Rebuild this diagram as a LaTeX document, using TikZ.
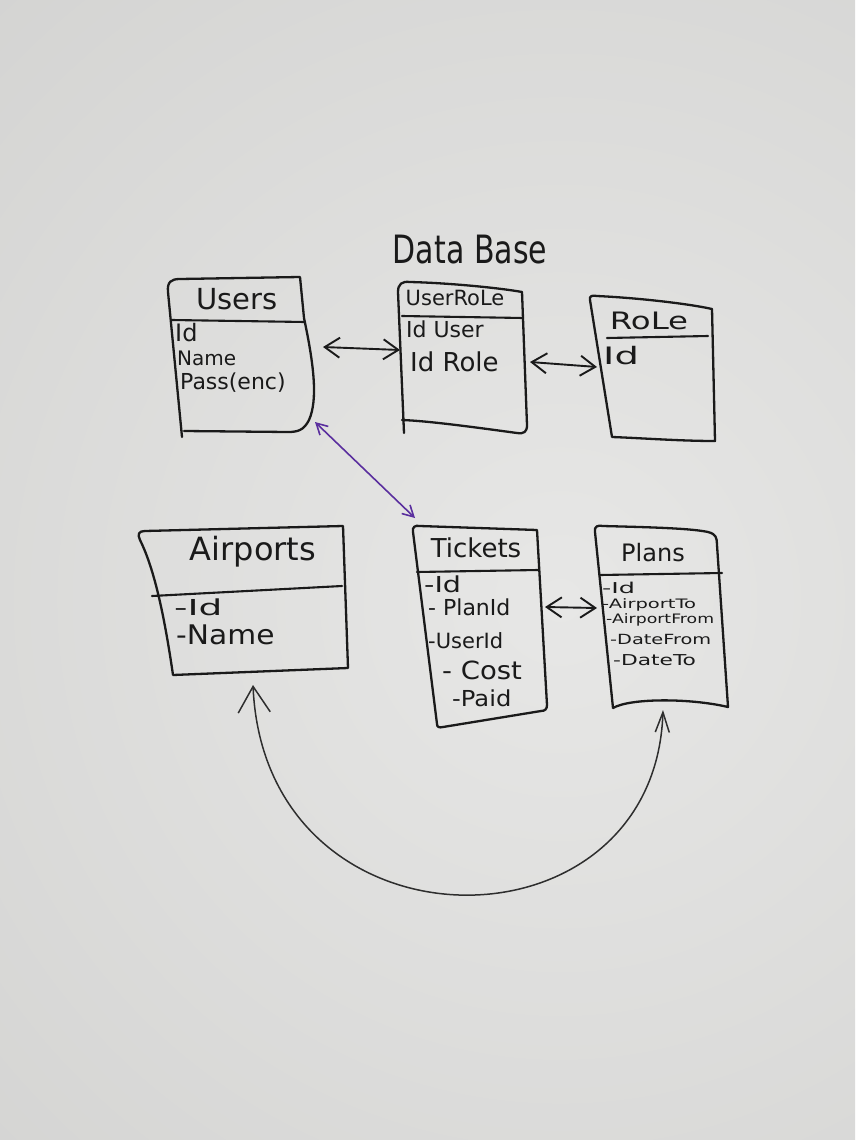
\documentclass[tikz,border=0pt]{standalone}
\usepackage{fontspec}
\usepackage{graphicx}
\usetikzlibrary{arrows.meta}
\newfontfamily\handfont{DejaVu Sans}
\newcommand\fsz[1]{\fontsize{#1}{#1}\selectfont}
\newcommand\wide[2]{\scalebox{#1}[1]{#2}}
\definecolor{ink}{HTML}{1A1A1A}
\definecolor{thinink}{HTML}{2E2E2E}
\definecolor{violetink}{HTML}{5A2E9E}
\definecolor{boardhi}{HTML}{E7E7E6}
\definecolor{boardlo}{HTML}{C7C7C5}

\begin{document}
\begin{tikzpicture}[x=1pt,y=-1pt,
  box/.style={draw=ink, line width=2.3pt, line cap=round, line join=round},
  rule/.style={draw=ink, line width=2.1pt, line cap=round},
  lbl/.style={font=\handfont, text=ink, inner sep=0pt},
  fld/.style={lbl, anchor=west},
  link/.style={draw=ink, line width=1.9pt, line cap=round,
    {Straight Barb[length=15pt,width=20pt]}-{Straight Barb[length=15pt,width=20pt]}},
  fklink/.style={draw=violetink, line width=1.6pt, line cap=round,
    {Straight Barb[length=11pt,width=12pt]}-{Straight Barb[length=11pt,width=12pt]}},
  bigloop/.style={draw=thinink, line width=1.5pt, line cap=round,
    {Straight Barb[length=26pt,width=32pt]}-{Straight Barb[length=20pt,width=14pt]}},
]
% whiteboard
\begin{scope}
  \clip (0,0) rectangle (855,1140);
  \fill[boardlo] (0,0) rectangle (855,1140);
  \shade[inner color=boardhi, outer color=boardlo] (560,600) circle (1400);
\end{scope}
\useasboundingbox (0,0) rectangle (855,1140);

% heading
\node[lbl] (dbtitle) at (470,250) {\fsz{30}\scalebox{1}[1.3]{Data Base}};

% Users table
\draw[box] (182,437) -- (168,292) .. controls (167,282) and (171,279) .. (180,279)
  -- (300,277) -- (304,318) .. controls (314,365) and (318,400) .. (309,420)
  .. controls (304,430) and (298,432) .. (288,432) -- (184,431);
\draw[rule] (172,320) -- (305,322);
\node[lbl] (usersT) at (237,299) {\fsz{29}Users};
\node[fld] (usersId) at (175,333) {\fsz{24}Id};
\node[fld] (usersName) at (177,358) {\fsz{20}Name};
\node[fld] (usersPass) at (180,383) {\fsz{22}Pass(enc)};

% UserRole table
\draw[box] (404,433) -- (398,292) .. controls (398,284) and (402,281) .. (410,282)
  .. controls (450,283) and (500,288) .. (522,292) -- (527,425)
  .. controls (527,432) and (524,434) .. (517,433)
  .. controls (480,428) and (430,421) .. (402,420);
\draw[rule] (402,316) -- (523,318);
\node[lbl] (urT) at (455,298) {\fsz{21}UserRoLe};
\node[fld] (urUser) at (406,329) {\fsz{22}Id User};
\node[fld] (urRole) at (410,362) {\fsz{26}Id Role};

% Role table
\draw[box] (612,437) -- (590,300) .. controls (589,296) and (592,295) .. (597,296)
  .. controls (640,298) and (690,304) .. (712,309) -- (715,441)
  .. controls (680,441) and (640,438) .. (612,437);
\draw[rule] (607,338) -- (708,336);
\node[lbl] (roleT) at (649,321) {\fsz{24}\wide{1.35}{RoLe}};
\node[fld] (roleId) at (603,356) {\fsz{24}\wide{1.6}{Id}};

% Airports table
\draw[box] (173,675) .. controls (165,620) and (155,570) .. (140,540)
  .. controls (137,534) and (139,531) .. (145,531) -- (343,526) -- (348,668) -- (173,675);
\draw[rule] (152,596) -- (342,586);
\node[lbl] (apT) at (253,552) {\fsz{32}Airports};
\node[fld] (apId) at (174,607) {\fsz{22}\wide{1.7}{-Id}};
\node[fld] (apName) at (176,635) {\fsz{27}\wide{1.1}{-Name}};

% Tickets table
\draw[box] (437,724) -- (413,532) .. controls (412,527) and (415,525) .. (420,526)
  -- (537,530) -- (547,705) .. controls (547,709) and (545,711) .. (541,711)
  -- (443,727) .. controls (439,728) and (437,727) .. (437,724);
\draw[rule] (417,572) -- (538,570);
\node[lbl] (tkT) at (476,548) {\fsz{26}Tickets};
\node[fld] (tkId) at (424,584) {\fsz{22}\wide{1.3}{-Id}};
\node[fld] (tkPlan) at (428,607) {\fsz{22}- PlanId};
\node[fld] (tkUser) at (428,641) {\fsz{21}-UserId};
\node[fld] (tkCost) at (442,670) {\fsz{25}\wide{1.1}{- Cost}};
\node[fld] (tkPaid) at (452,698) {\fsz{22}\wide{1.1}{-Paid}};

% Plans table
\draw[box] (613,708) -- (595,532) .. controls (594,526) and (598,525) .. (603,526)
  .. controls (640,527) and (690,528) .. (708,532)
  .. controls (716,534) and (717,538) .. (717,545) -- (728,707)
  .. controls (690,698) and (630,698) .. (613,708);
\draw[rule] (600,575) -- (722,573);
\node[lbl] (plT) at (653,553) {\fsz{24}Plans};
\node[fld] (plId) at (602,588) {\fsz{15}\wide{1.7}{-Id}};
\node[fld] (plTo) at (602,605) {\fsz{13}\wide{1.5}{-AirportTo}};
\node[fld] (plFrom) at (606,620) {\fsz{13}\wide{1.33}{-AirportFrom}};
\node[fld] (plDFrom) at (610,639) {\fsz{14}\wide{1.38}{-DateFrom}};
\node[fld] (plDTo) at (613,660) {\fsz{15}\wide{1.45}{-DateTo}};

% connector ends
\coordinate (usersR) at (323,347);
\coordinate (urL) at (400,350);
\coordinate (urR) at (530,362);
\coordinate (roleL) at (597,367);
\coordinate (tkR) at (545,607);
\coordinate (plL) at (597,608);
\coordinate (usersB) at (315,422);
\coordinate (tkTop) at (415,518);
\coordinate (apB) at (253,685);
\coordinate (plB) at (663,710);

% relations
\draw[link] (usersR) -- (urL);
\draw[link] (urR) -- (roleL);
\draw[link] (tkR) -- (plL);
\draw[fklink] (usersB) -- (tkTop);
\draw[bigloop] (apB) .. controls (265,960) and (655,960) .. (plB);
\end{tikzpicture}
\end{document}
